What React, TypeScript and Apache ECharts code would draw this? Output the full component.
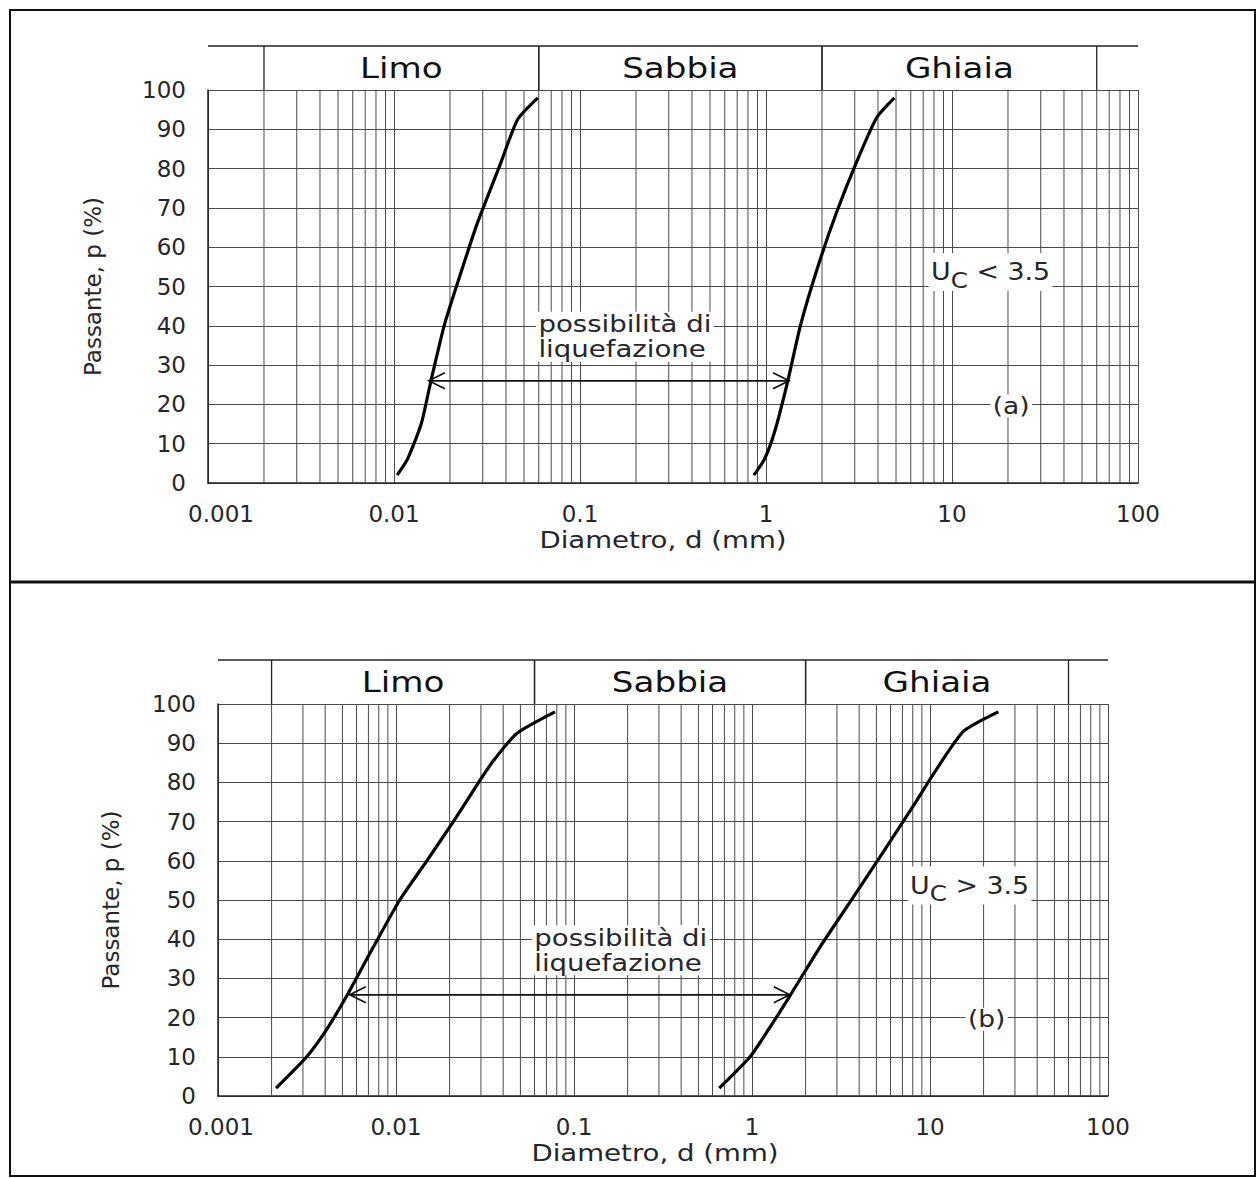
import React, { useEffect, useRef } from "react";
import * as echarts from "echarts";

// ---------- data ----------
const xTickLabels = ["0.001", "0.01", "0.1", "1", "10", "100"];
const xMin = 0.001;
const xMax = 100;
const soilClasses = ["Limo", "Sabbia", "Ghiaia"];
const classBounds = [
  [0.002, 0.06],
  [0.06, 2],
  [2, 60],
];
// minor log grid multipliers per decade
const minorMultipliers = [2, 3, 4, 5, 6, 7, 8, 9];
const decades = [0.001, 0.01, 0.1, 1, 10];

// panel (a): Uc < 3.5
const curveA1 = [
  [0.0104, 2], [0.0118, 6], [0.014, 15], [0.0158, 26], [0.0186, 40],
  [0.022, 51], [0.028, 66], [0.0372, 81], [0.0462, 92.5], [0.0593, 98],
];
const curveA2 = [
  [0.86, 2], [0.98, 6], [1.12, 13.5], [1.31, 26], [1.53, 40],
  [1.9, 55], [2.38, 68.5], [3.09, 82], [3.94, 93], [4.9, 98],
];
const arrowA = [0.0154, 1.33, 26];

// panel (b): Uc > 3.5
const curveB1 = [
  [0.00212, 2], [0.00315, 10], [0.00408, 17], [0.00528, 25.5], [0.00746, 38],
  [0.0105, 50], [0.0149, 60], [0.021, 70], [0.0296, 80.5], [0.0352, 85.5],
  [0.0477, 92.5], [0.0782, 98],
];
const curveB2 = [
  [0.655, 2], [0.975, 10], [1.26, 17.5], [1.63, 25.5], [2.41, 38],
  [3.56, 49.5], [5.24, 61], [8.06, 74], [10.4, 82], [15.4, 93], [24.2, 98],
];
const arrowB = [0.0055, 1.63, 25.8];

const liqLines = ["possibilità di", "liquefazione"];
const ucTexts = ["{u|U}{sub|C}{u| < 3.5}", "{u|U}{sub|C}{u| > 3.5}"];
const tagTexts = ["(a)", "(b)"];
const xName = "Diametro, d (mm)";
const yName = "Passante, p (%)";

// ---------- style ----------
const FONT = "DejaVu Sans";
const TXT = "#262626";
const GRIDC = "#4a4a4a";
const BAND = 44;

const panels = [
  {
    grid: { left: 208, top: 90, width: 930, height: 393 },
    curves: [curveA1, curveA2],
    arrow: arrowA,
    yNameGap: 104,
    xNameShift: -10,
    firstLabelPad: 26,
  },
  {
    grid: { left: 218, top: 704, width: 890, height: 392 },
    curves: [curveB1, curveB2],
    arrow: arrowB,
    yNameGap: 96,
    xNameShift: -8,
    firstLabelPad: 6,
  },
];

const minorValues: number[] = [];
decades.forEach((d) => minorMultipliers.forEach((m) => minorValues.push(d * m)));

function buildOption() {
  const grid: any[] = [];
  const xAxis: any[] = [];
  const yAxis: any[] = [];
  const series: any[] = [];

  panels.forEach((pn, i) => {
    grid.push({ ...pn.grid, containLabel: false });
    xAxis.push({
      gridIndex: i,
      type: "log",
      logBase: 10,
      min: xMin,
      max: xMax,
      splitNumber: 5,
      axisLine: { show: true, lineStyle: { color: "#222", width: 1.5 } },
      axisTick: { show: false },
      axisLabel: {
        margin: 19,
        fontFamily: FONT,
        fontSize: 23,
        color: TXT,
        formatter: (v: number) => {
          const k = Math.round(Math.log10(v)) + 3;
          const s = xTickLabels[k] ?? "";
          return k === 0 ? "{first|" + s + "}" : s;
        },
        rich: {
          first: { fontFamily: FONT, fontSize: 23, color: TXT, padding: [0, 0, 0, pn.firstLabelPad] },
        },
      },
      splitLine: { show: true, lineStyle: { color: GRIDC, width: 1 } },
    });
    yAxis.push({
      gridIndex: i,
      type: "value",
      min: 0,
      max: 100,
      interval: 10,
      name: yName,
      nameLocation: "middle",
      nameRotate: 90,
      nameGap: pn.yNameGap,
      nameTextStyle: { fontFamily: FONT, fontSize: 23, color: TXT },
      axisLine: { show: true, lineStyle: { color: "#222", width: 1.5 } },
      axisTick: { show: false },
      axisLabel: { margin: 22, fontFamily: FONT, fontSize: 23, color: TXT },
      splitLine: { show: true, lineStyle: { color: GRIDC, width: 1 } },
    });

    // minor vertical log grid lines
    series.push({
      type: "custom",
      xAxisIndex: i,
      yAxisIndex: i,
      silent: true,
      z: 1,
      data: minorValues.map((v) => [v, 0]),
      encode: { x: 0, y: 1 },
      renderItem: (params: any, api: any) => {
        const v = api.value(0);
        const a = api.coord([v, 0]);
        const b = api.coord([v, 100]);
        return {
          type: "line",
          shape: { x1: a[0], y1: a[1], x2: b[0], y2: b[1] },
          style: { stroke: GRIDC, lineWidth: 1 },
        };
      },
    });

    // header band with soil classes
    series.push({
      type: "custom",
      xAxisIndex: i,
      yAxisIndex: i,
      silent: true,
      clip: false,
      z: 4,
      data: classBounds.map((b) => [b[0], b[1]]),
      encode: { x: [0, 1] },
      renderItem: (params: any, api: any) => {
        const p0 = api.coord([api.value(0), 100]);
        const p1 = api.coord([api.value(1), 100]);
        const top = p0[1] - BAND;
        const children: any[] = [
          { type: "line", shape: { x1: p0[0], y1: top, x2: p0[0], y2: p0[1] }, style: { stroke: "#222", lineWidth: 1.3 } },
          { type: "line", shape: { x1: p1[0], y1: top, x2: p1[0], y2: p1[1] }, style: { stroke: "#222", lineWidth: 1.3 } },
          {
            type: "text",
            x: (p0[0] + p1[0]) / 2,
            y: top + BAND / 2,
            scaleX: 1.22,
            style: {
              text: soilClasses[params.dataIndex],
              fontFamily: FONT,
              fontSize: 28,
              fill: "#111",
              align: "center",
              verticalAlign: "middle",
            },
          },
        ];
        if (params.dataIndex === 0) {
          const l = api.coord([xMin, 100]);
          const r = api.coord([xMax, 100]);
          children.push({
            type: "line",
            shape: { x1: l[0], y1: top, x2: r[0], y2: top },
            style: { stroke: "#222", lineWidth: 1.6 },
          });
        }
        return { type: "group", children };
      },
    });

    // curves
    pn.curves.forEach((c) => {
      series.push({
        type: "line",
        xAxisIndex: i,
        yAxisIndex: i,
        data: c,
        smooth: 0.2,
        showSymbol: false,
        symbol: "none",
        silent: true,
        z: 6,
        lineStyle: { color: "#000", width: 3.2 },
      });
    });

    // double arrow
    series.push({
      type: "custom",
      xAxisIndex: i,
      yAxisIndex: i,
      silent: true,
      z: 5,
      data: [pn.arrow],
      encode: { x: [0, 1], y: 2 },
      renderItem: (params: any, api: any) => {
        const a = api.coord([api.value(0), api.value(2)]);
        const b = api.coord([api.value(1), api.value(2)]);
        const L = 16, H = 8;
        const st = { stroke: "#111", lineWidth: 1.7, fill: "none" };
        return {
          type: "group",
          children: [
            { type: "line", shape: { x1: a[0], y1: a[1], x2: b[0], y2: b[1] }, style: st },
            { type: "polyline", shape: { points: [[a[0] + L, a[1] - H], [a[0], a[1]], [a[0] + L, a[1] + H]] }, style: st },
            { type: "polyline", shape: { points: [[b[0] - L, b[1] - H], [b[0], b[1]], [b[0] - L, b[1] + H]] }, style: st },
          ],
        };
      },
    });

    // annotation texts (anchored in data coordinates)
    const textSeries = (x: number, p: number, style: any, scaleX: number, dx = 0, dy = 0) => ({
      type: "custom",
      xAxisIndex: i,
      yAxisIndex: i,
      silent: true,
      clip: false,
      z: 5,
      data: [[x, p]],
      encode: { x: 0, y: 1 },
      renderItem: (params: any, api: any) => {
        const c = api.coord([api.value(0), api.value(1)]);
        return { type: "text", x: c[0] + dx, y: c[1] + dy, scaleX, style };
      },
    });
    series.push(
      textSeries(0.058, 37.2, {
        text: liqLines.join("\n"),
        fontFamily: FONT,
        fontSize: 23,
        lineHeight: 25,
        fill: TXT,
        align: "left",
        verticalAlign: "middle",
        backgroundColor: "#fff",
        padding: [0, 2],
      }, 1.2)
    );
    series.push(
      textSeries(7.5, 53.7, {
        text: ucTexts[i],
        fontFamily: FONT,
        fill: TXT,
        align: "left",
        verticalAlign: "middle",
        backgroundColor: "#fff",
        padding: [0, 2],
        rich: {
          u: { fontFamily: FONT, fontSize: 24, fill: TXT },
          sub: { fontFamily: FONT, fontSize: 22, fill: TXT, padding: [16, 0, 0, 0] },
        },
      }, 1.12)
    );
    series.push(
      textSeries(20.8, 19.6, {
        text: tagTexts[i],
        fontFamily: FONT,
        fontSize: 23,
        fill: TXT,
        align: "center",
        verticalAlign: "middle",
        backgroundColor: "#fff",
        padding: [0, 2],
      }, 1.15)
    );
    // x axis name
    series.push(
      textSeries(Math.sqrt(xMin * xMax), 0, {
        text: xName,
        fontFamily: FONT,
        fontSize: 23,
        fill: TXT,
        align: "center",
        verticalAlign: "middle",
      }, 1.2, pn.xNameShift, 57)
    );
  });

  const frame = { stroke: "#111", fill: "none", lineWidth: 2 };
  return {
    animation: false,
    backgroundColor: "#fff",
    grid,
    xAxis,
    yAxis,
    series,
    graphic: [
      { type: "rect", shape: { x: 10, y: 10, width: 1245, height: 572 }, style: frame, silent: true },
      { type: "rect", shape: { x: 10, y: 582, width: 1245, height: 594 }, style: frame, silent: true },
      { type: "line", shape: { x1: 10, y1: 582, x2: 1255, y2: 582 }, style: { stroke: "#111", lineWidth: 3 }, silent: true },
    ],
  };
}

export default function App() {
  const ref = useRef<HTMLDivElement>(null);
  useEffect(() => {
    if (!ref.current) return;
    const chart = echarts.init(ref.current, undefined, { renderer: "svg" });
    chart.setOption(buildOption() as any);
    return () => chart.dispose();
  }, []);
  return (
    <div
      ref={ref}
      style={{ position: "absolute", left: 0, top: 0, width: 1259, height: 1178, background: "#fff" }}
    />
  );
}
